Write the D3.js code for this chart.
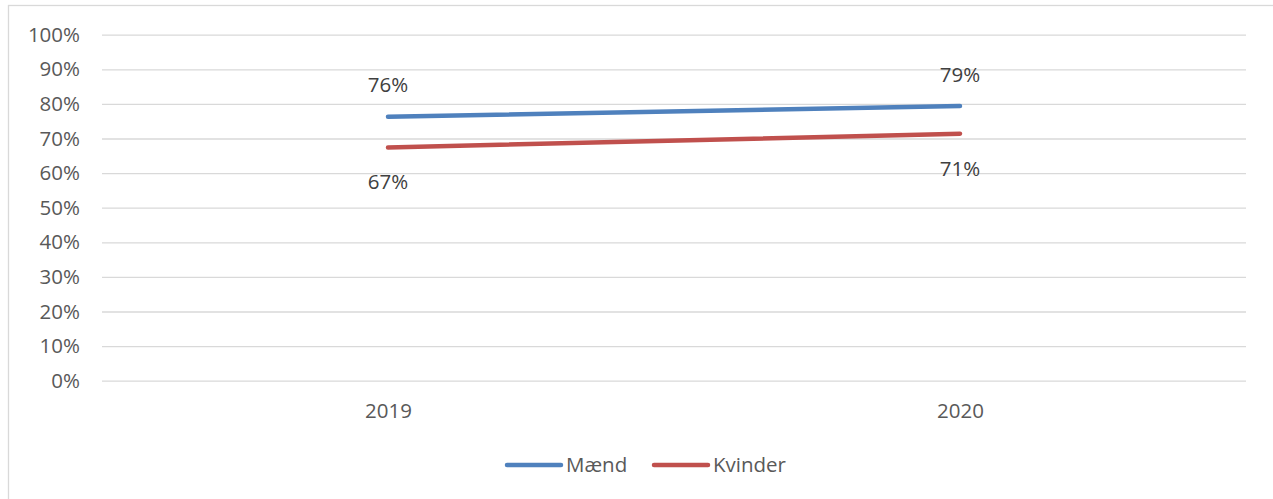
<!DOCTYPE html>
<html>
<head>
<meta charset="utf-8">
<script src="https://cdn.jsdelivr.net/npm/d3@7"></script>
<style>
  html, body { margin: 0; padding: 0; background: #fff; }
  svg { display: block; }
  text { font-family: "Open Sans", "Liberation Sans", sans-serif; fill: #595959; }
</style>
</head>
<body>
<svg id="chart" width="1273" height="499"></svg>
<script>
// Andel (share) by year for each group
const years = ["2019", "2020"];
const maend = [0.763, 0.794];
const kvinder = [0.674, 0.714];
const seriesNames = ["Mænd", "Kvinder"];
const seriesColors = ["#4F81BD", "#C0504D"];
const yTicks = [0, 0.1, 0.2, 0.3, 0.4, 0.5, 0.6, 0.7, 0.8, 0.9, 1.0];

const series = [
  { name: seriesNames[0], values: maend, color: seriesColors[0], labelDy: [-25, -24] },
  { name: seriesNames[1], values: kvinder, color: seriesColors[1], labelDy: [42, 42] }
];

const svg = d3.select("#chart");
const W = 1273, H = 499;
const plot = { left: 102, right: 1246, top: 34.7, bottom: 380.7 };
const pct = d3.format(".0%");
const FS = 20.5;

// chart area frame
svg.append("rect")
  .attr("x", 8.5).attr("y", 5.5)
  .attr("width", W + 20).attr("height", H + 20)
  .attr("fill", "#fff")
  .attr("stroke", "#D9D9D9").attr("stroke-width", 1.3);

const x = d3.scalePoint().domain(years).range([plot.left, plot.right]).padding(0.5);
const y = d3.scaleLinear().domain([0, 1]).range([plot.bottom, plot.top]);

// horizontal gridlines + y labels
const yAxis = d3.axisLeft(y).tickValues(yTicks).tickFormat(pct)
  .tickSize(-(plot.right - plot.left)).tickPadding(22);
const gy = svg.append("g").attr("transform", `translate(${plot.left},0)`).call(yAxis);
gy.select(".domain").remove();
gy.selectAll(".tick line").attr("stroke", "#D9D9D9").attr("stroke-width", 1.3);
gy.selectAll(".tick text").attr("font-size", FS).attr("fill", "#595959")
  .attr("font-family", "\"Open Sans\", sans-serif");

// category labels
const xAxis = d3.axisBottom(x).tickSize(0).tickPadding(23);
const gx = svg.append("g").attr("transform", `translate(0,${plot.bottom})`).call(xAxis);
gx.select(".domain").remove();
gx.selectAll(".tick text").attr("font-size", FS).attr("fill", "#595959")
  .attr("font-family", "\"Open Sans\", sans-serif");

// series lines
const line = d3.line().x((d, i) => x(years[i])).y(d => y(d));
series.forEach(s => {
  svg.append("path")
    .datum(s.values)
    .attr("d", line)
    .attr("fill", "none")
    .attr("stroke", s.color)
    .attr("stroke-width", 4.5)
    .attr("stroke-linecap", "round");
});

// value labels
series.forEach(s => {
  svg.selectAll(null)
    .data(s.values)
    .enter().append("text")
    .attr("x", (d, i) => x(years[i]))
    .attr("y", (d, i) => y(d) + s.labelDy[i])
    .attr("text-anchor", "middle")
    .attr("font-size", FS)
    .style("fill", "#404040")
    .text(d => pct(d));
});

// legend
const legendItems = [
  { name: seriesNames[0], color: seriesColors[0], x0: 507 },
  { name: seriesNames[1], color: seriesColors[1], x0: 654 }
];
const lg = svg.append("g");
legendItems.forEach(it => {
  lg.append("line")
    .attr("x1", it.x0).attr("x2", it.x0 + 54)
    .attr("y1", 465).attr("y2", 465)
    .attr("stroke", it.color).attr("stroke-width", 4.5)
    .attr("stroke-linecap", "round");
  lg.append("text")
    .attr("x", it.x0 + 59).attr("y", 472)
    .attr("font-size", FS)
    .text(it.name);
});
</script>
</body>
</html>
